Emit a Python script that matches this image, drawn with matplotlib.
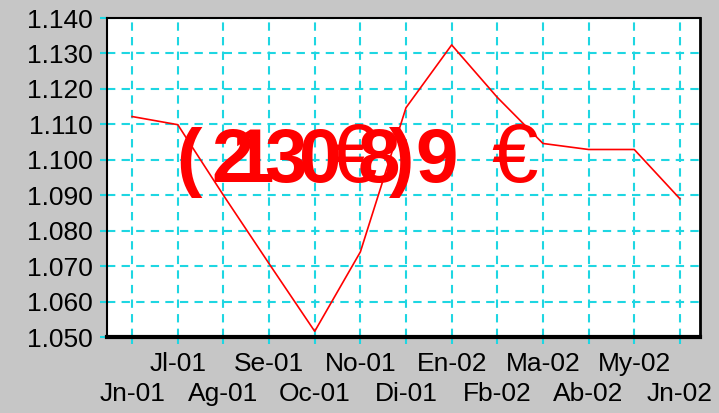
import numpy as np
import matplotlib
matplotlib.use("Agg")
import matplotlib.pyplot as plt

# monthly values, Jun-01 .. Jun-02
months = ["Jn-01", "Jl-01", "Ag-01", "Se-01", "Oc-01", "No-01", "Di-01",
          "En-02", "Fb-02", "Ma-02", "Ab-02", "My-02", "Jn-02"]
values = [1.1122, 1.1099, 1.0900, 1.0707, 1.0516, 1.0740, 1.1147,
          1.1324, 1.1176, 1.1046, 1.1029, 1.1029, 1.0890]
y_ticks = [1.05, 1.06, 1.07, 1.08, 1.09, 1.10, 1.11, 1.12, 1.13, 1.14]

# overlapping red caption pieces (glyph, left px, bold)
caption = [("(", 176, True), ("2", 211, True), ("1", 231, True), ("3", 264, True),
           ("0", 299, True), ("€", 330, False), ("8", 358, True), (")", 389, True),
           ("9", 415, True), ("€", 491, False)]

W, H = 719, 413
grid_col = "#1ed6e2"
plt.rcParams['font.family'] = ['Liberation Sans', 'DejaVu Sans']

fig = plt.figure(figsize=(W / 100, H / 100), dpi=100)
fig.patch.set_facecolor("#c6c6c6")
ax = fig.add_axes([107 / W, 1 - 337 / H, (700 - 107) / W, (337 - 18) / H])
ax.set_facecolor("white")

x = np.arange(len(months))
ax.plot(x, values, color="#ff0000", lw=1.2, zorder=3)

ax.set_xlim(-0.55, 12.44)
ax.set_ylim(1.05, 1.14)
ax.set_yticks(y_ticks)
ax.set_yticklabels(["{:.3f}".format(v) for v in y_ticks])
ax.set_xticks(x)
ax.set_xticklabels([("\n" + m) if i % 2 == 0 else m for i, m in enumerate(months)],
                   linespacing=1.28)

ax.grid(True, color=grid_col, lw=1.5, linestyle=(0, (4, 3)))
ax.tick_params(axis="both", colors=grid_col, width=1.5, length=5,
               labelcolor="black", labelsize=19)
ax.tick_params(axis="y", pad=5)
ax.tick_params(axis="x", pad=6)

for side, lw in [("left", 1.5), ("top", 1.5), ("bottom", 3), ("right", 2)]:
    ax.spines[side].set_color("black")
    ax.spines[side].set_linewidth(lw)
    ax.spines[side].set_zorder(4)

for ch, px, bold in caption:
    fig.text(px / W, 1 - 182 / H, ch, color="#ff0000",
             fontsize=55 if bold else 60,
             fontweight="bold" if bold else "normal",
             va="baseline", ha="left", zorder=5)

fig.savefig("out.png", dpi=100, facecolor=fig.get_facecolor())
